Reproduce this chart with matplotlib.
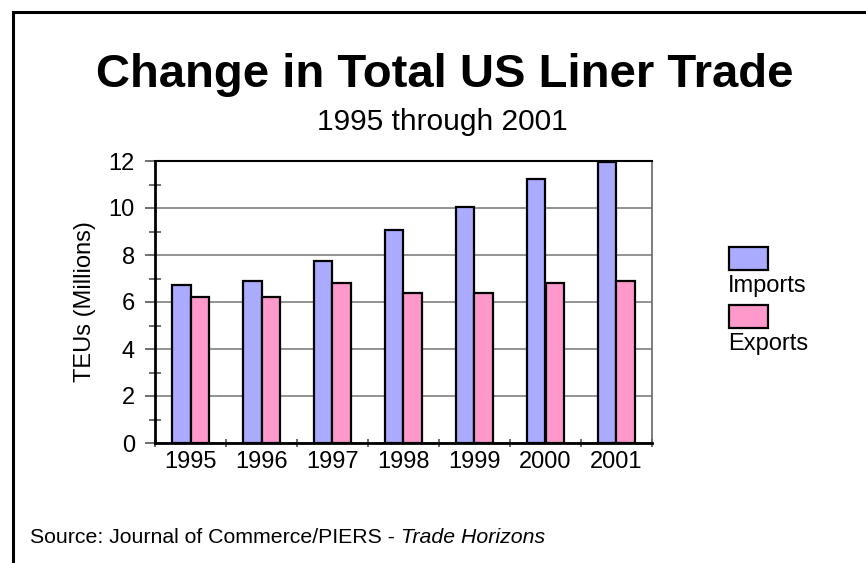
import matplotlib.pyplot as plt
import numpy as np
from matplotlib.patches import Rectangle
from matplotlib.lines import Line2D

years = ["1995", "1996", "1997", "1998", "1999", "2000", "2001"]
imports = [6.72, 6.89, 7.76, 9.06, 10.06, 11.25, 11.95]
exports = [6.23, 6.23, 6.82, 6.38, 6.38, 6.82, 6.91]

imp_color = "#aaaaff"
exp_color = "#ff99cc"

plt.rcParams['font.family'] = ['Liberation Sans', 'DejaVu Sans']

W, H = 866, 563
fig = plt.figure(figsize=(8.66, 5.63), dpi=100)
ax = fig.add_axes([155 / W, 1 - 443 / H, (652 - 155) / W, (443 - 161) / H])

x = np.arange(len(years))
w = 0.265
ax.bar(x - w / 2, imports, w, color=imp_color, edgecolor="black", linewidth=1.6, zorder=3)
ax.bar(x + w / 2, exports, w, color=exp_color, edgecolor="black", linewidth=1.6, zorder=3)

ax.set_xlim(-0.5, 6.5)
ax.set_ylim(0, 12)
ax.set_yticks([0, 2, 4, 6, 8, 10, 12])
ax.set_yticks([1, 3, 5, 7, 9, 11], minor=True)
ax.set_xticks(x)
ax.set_xticklabels(years)
ax.set_xticks(np.arange(-0.5, 7, 1), minor=True)
ax.yaxis.grid(True, which="major", color="#808080", linewidth=1.2, zorder=1)
ax.set_axisbelow(True)

ax.tick_params(axis="y", which="major", length=7.5, width=1.2, color="#555555",
               labelsize=17, pad=7)
ax.tick_params(axis="y", which="minor", length=8.5, width=1.2, color="#555555",
               direction="inout")
ax.tick_params(axis="x", which="major", length=0, labelsize=17, pad=6)
ax.tick_params(axis="x", which="minor", length=6, width=1.2, direction="inout",
               color="#555555")

ax.spines["left"].set_linewidth(2)
ax.spines["bottom"].set_linewidth(2)
ax.spines["top"].set_linewidth(1.5)
ax.spines["right"].set_linewidth(1.2)
ax.spines["right"].set_color("#666666")

ax.set_ylabel("TEUs (Millions)", fontsize=17, labelpad=9)

fig.text(445 / W, 1 - 87 / H, "Change in Total US Liner Trade", ha="center", va="baseline",
         fontsize=34, fontweight="bold")
fig.text(442 / W, 1 - 130 / H, "1995 through 2001", ha="center", va="baseline", fontsize=21.5)

# legend: swatch above label
for i, (lab, col) in enumerate([("Imports", imp_color), ("Exports", exp_color)]):
    y_top = 247 + i * 58
    fig.add_artist(Rectangle((729 / W, 1 - (y_top + 23) / H), 39 / W, 23 / H,
                             transform=fig.transFigure, facecolor=col,
                             edgecolor="black", linewidth=1.6))
    fig.text(728 / W, 1 - (y_top + 45) / H, lab, ha="left", va="baseline", fontsize=17)

# page frame lines
fig.add_artist(Line2D([12.5 / W, 12.5 / W], [0, 1 - 12 / H], transform=fig.transFigure,
                      color="black", linewidth=2.2, solid_capstyle="projecting"))
fig.add_artist(Line2D([12.5 / W, 1], [1 - 12 / H, 1 - 12 / H], transform=fig.transFigure,
                      color="black", linewidth=2.2, solid_capstyle="projecting"))

t1 = fig.text(30 / W, 1 - 543 / H, "Source: Journal of Commerce/PIERS - ",
              ha="left", va="baseline", fontsize=15.3)
fig.canvas.draw()
bb = t1.get_window_extent(renderer=fig.canvas.get_renderer())
fig.text(bb.x1 / fig.bbox.width, 1 - 543 / H, "Trade Horizons", ha="left",
         va="baseline", fontsize=15.3, style="italic")

fig.savefig("out.png", dpi=100)
